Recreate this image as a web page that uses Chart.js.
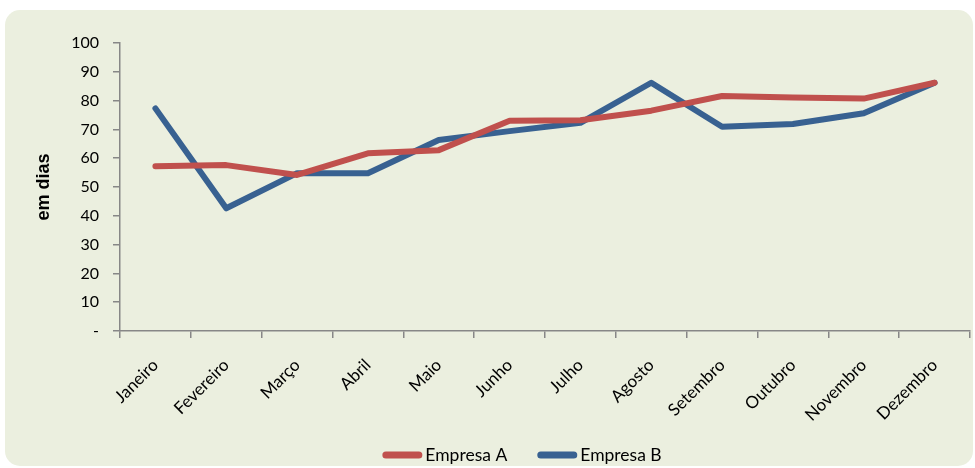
<!DOCTYPE html>
<html>
<head>
<meta charset="utf-8">
<script src="https://cdn.jsdelivr.net/npm/chart.js@4/dist/chart.umd.min.js"></script>
<style>
  html, body { margin: 0; padding: 0; background: #ffffff; }
  #wrap { position: relative; width: 975px; height: 468px; }
</style>
</head>
<body>
<div id="wrap"><canvas id="c" width="975" height="468"></canvas></div>
<script>
const categories = ['Janeiro','Fevereiro','Março','Abril','Maio','Junho','Julho','Agosto','Setembro','Outubro','Novembro','Dezembro'];
const empresaA = [57.2, 57.6, 54.2, 61.7, 62.8, 73.0, 73.2, 76.5, 81.6, 81.1, 80.7, 86.2];
const empresaB = [77.3, 42.6, 54.8, 54.8, 66.3, 69.4, 72.3, 86.2, 70.9, 71.9, 75.6, 86.2];
const seriesNames = ['Empresa A', 'Empresa B'];
const seriesColors = ['#C0504D', '#386191'];
const yTitle = 'em dias';

const panelPlugin = {
  id: 'panel',
  beforeDraw(chart) {
    const ctx = chart.ctx;
    ctx.save();
    ctx.fillStyle = '#EBEFDF';
    ctx.beginPath();
    ctx.roundRect(5, 10, 968, 456, 15);
    ctx.fill();
    ctx.restore();
  }
};

// Legend drawn from the chart's datasets (line swatches with short gap to text)
const lineLegendPlugin = {
  id: 'lineLegend',
  afterDraw(chart) {
    const ctx = chart.ctx;
    const sets = chart.data.datasets;
    const font = '17.5px Lato';
    const swatch = 40, gap = 3, itemGap = 30, y = 455;
    ctx.save();
    ctx.font = font;
    const widths = sets.map(d => ctx.measureText(d.label).width);
    let total = 0;
    widths.forEach((w, i) => { total += swatch + gap + w + (i < widths.length - 1 ? itemGap : 0); });
    let x = 522 - total / 2;
    sets.forEach((d, i) => {
      ctx.strokeStyle = d.borderColor;
      ctx.lineWidth = 7;
      ctx.lineCap = 'round';
      ctx.beginPath();
      ctx.moveTo(x + 3.5, y);
      ctx.lineTo(x + swatch - 3.5, y);
      ctx.stroke();
      ctx.fillStyle = '#000';
      ctx.textBaseline = 'middle';
      ctx.textAlign = 'left';
      ctx.fillText(d.label, x + swatch + gap, y);
      x += swatch + gap + widths[i] + itemGap;
    });
    ctx.restore();
  }
};

const axisColor = '#878787';

new Chart(document.getElementById('c'), {
  type: 'line',
  data: {
    labels: categories,
    datasets: [
      { label: seriesNames[0], data: empresaA, borderColor: seriesColors[0], backgroundColor: seriesColors[0],
        borderWidth: 6, pointRadius: 0, tension: 0, borderCapStyle: 'round', borderJoinStyle: 'round' },
      { label: seriesNames[1], data: empresaB, borderColor: seriesColors[1], backgroundColor: seriesColors[1],
        borderWidth: 6, pointRadius: 0, tension: 0, borderCapStyle: 'round', borderJoinStyle: 'round' }
    ]
  },
  options: {
    responsive: false,
    animation: false,
    devicePixelRatio: 1,
    layout: { padding: { left: 0, right: 5, top: 43, bottom: 26 } },
    plugins: {
      tooltip: { enabled: false },
      legend: { display: false }
    },
    scales: {
      x: {
        offset: true,
        afterFit(scale) { scale.height = 111; },
        grid: { display: true, drawOnChartArea: false, drawTicks: true, tickLength: 7, color: axisColor, lineWidth: 1.5, offset: true },
        border: { display: true, color: axisColor, width: 1.5 },
        ticks: { font: { family: 'Lato', size: 17 }, color: '#000', maxRotation: 45, minRotation: 45, padding: 17, autoSkip: false }
      },
      y: {
        min: 0, max: 100,
        afterFit(scale) { scale.width = 120; },
        grid: { display: true, drawOnChartArea: false, drawTicks: true, tickLength: 7, color: axisColor, lineWidth: 1.5 },
        border: { display: true, color: axisColor, width: 1.5 },
        ticks: { stepSize: 10, font: { family: 'Lato', size: 16 }, color: '#000', padding: 14,
          callback: (v) => v === 0 ? '-' : v },
        title: { display: true, text: yTitle, font: { family: 'Liberation Sans', size: 18, weight: 'bold' }, color: '#000',
          padding: { top: 33, bottom: 0 } }
      }
    }
  },
  plugins: [panelPlugin, lineLegendPlugin]
});
</script>
</body>
</html>
